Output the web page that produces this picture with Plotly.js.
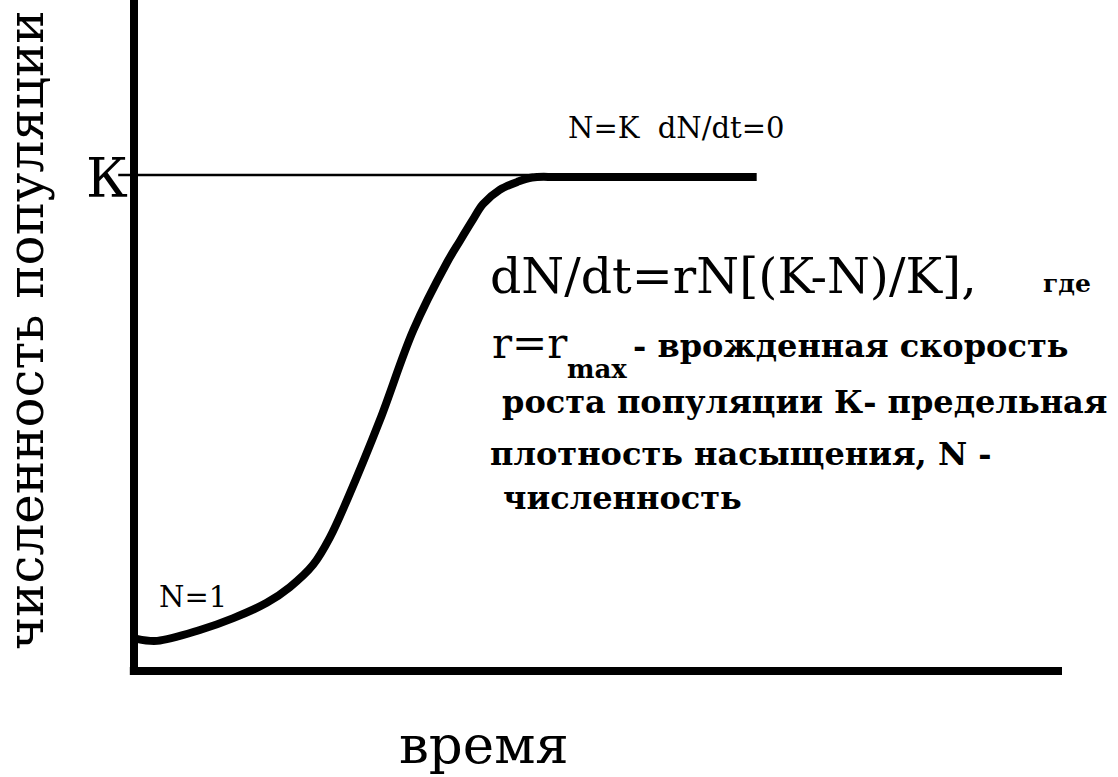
<!DOCTYPE html>
<html><head><meta charset="utf-8">
<script src="https://cdn.plot.ly/plotly-3.0.1.min.js"></script>
<style>html,body{margin:0;padding:0;background:#fff;overflow:hidden}</style>
</head><body><div id="chart" style="width:1118px;height:777px"></div>
<script>
// ---- data ----
const time = [0.3, 2.5, 7.1, 10.7, 14.3, 16.8, 19.3, 21.1, 23.0, 26.5, 30.1, 33.7, 35.1, 36.5, 37.6, 39.4, 41.3, 42.9, 45.9, 67.1];
const population = [6.5, 6.1, 8.3, 10.7, 13.8, 17.0, 21.5, 27.0, 34.8, 50.8, 69.0, 82.6, 87.0, 91.3, 94.5, 97.4, 99.0, 99.9, 100, 100];
const K_LEVEL = 100.4;
const K_LINE_END = 43.0;
const TIME_MAX = 100;
const yAxisTitle = 'численность популяции';
const xAxisTitle = 'время';
const kLabel = 'К';
const topLabel = 'N=K\u00a0\u00a0dN/dt=0';
const startLabel = 'N=1';
const formula = 'dN/dt=rN[(K-N)/K],';
const formulaTail = 'где';
const rLabel = 'r=r';
const rSub = 'max';
const descLines = ['- врожденная скорость', 'роста популяции К- предельная', 'плотность насыщения, N -', 'численность'];

// ---- layout helpers ----
const W = 1118, H = 777;
const FONT = 'DejaVu Serif';
function ann(text, xpx, baselinePx, size, opts) {
  opts = opts || {};
  const a = {
    text: text,
    xref: 'paper', yref: 'paper',
    x: xpx / W,
    y: 1 - (baselinePx - 0.346 * size) / H,
    xanchor: opts.xanchor || 'left', yanchor: 'middle',
    showarrow: false, borderpad: 0,
    font: {family: FONT, size: size, color: '#000'}
  };
  if (opts.bold) a.font.weight = 'bold';
  return a;
}

const annotations = [
  Object.assign(ann(yAxisTitle, 0, 0, 50, {xanchor: 'center'}), {x: 26 / W, y: 1 - 330 / H, textangle: -90}),
  ann(kLabel, 129, 197, 54, {xanchor: 'right'}),
  ann(topLabel, 567, 138, 29),
  ann(startLabel, 158, 607, 29),
  ann(formula, 489, 293, 49),
  ann(formulaTail, 1042, 292, 25, {bold: true}),
  ann(rLabel, 491, 358, 42),
  ann(rSub, 566, 378, 26, {bold: true}),
  ann(descLines[0], 632, 357, 32, {bold: true}),
  ann(descLines[1], 501, 413, 32, {bold: true}),
  ann(descLines[2], 489, 465, 32, {bold: true}),
  ann(descLines[3], 502, 509, 32, {bold: true}),
  ann(xAxisTitle, 484, 763, 53, {xanchor: 'center'})
];

const trace = {
  x: time, y: population, type: 'scatter', mode: 'lines',
  line: {color: '#000', width: 8, shape: 'spline', smoothing: 1},
  hoverinfo: 'skip'
};

const layout = {
  width: W, height: H,
  margin: {l: 0, r: 0, t: 0, b: 0, pad: 0},
  paper_bgcolor: '#fff', plot_bgcolor: '#fff',
  showlegend: false,
  font: {family: FONT},
  xaxis: {visible: false, range: [-134 / 9.28, (W - 134) / 9.28], fixedrange: true},
  yaxis: {visible: false, range: [(671 - H) / 4.94, 671 / 4.94], fixedrange: true},
  shapes: [
    {type: 'line', xref: 'x', yref: 'y', x0: 0, x1: 0, y0: -0.8, y1: 140, line: {color: '#000', width: 8}},
    {type: 'line', xref: 'x', yref: 'y', x0: -0.45, x1: TIME_MAX, y0: 0, y1: 0, line: {color: '#000', width: 8}},
    {type: 'line', xref: 'x', yref: 'y', x0: -1.7, x1: K_LINE_END, y0: K_LEVEL, y1: K_LEVEL, line: {color: '#000', width: 2.5}}
  ],
  annotations: annotations
};

Plotly.newPlot('chart', [trace], layout, {displayModeBar: false, staticPlot: true});
</script>
</body></html>
